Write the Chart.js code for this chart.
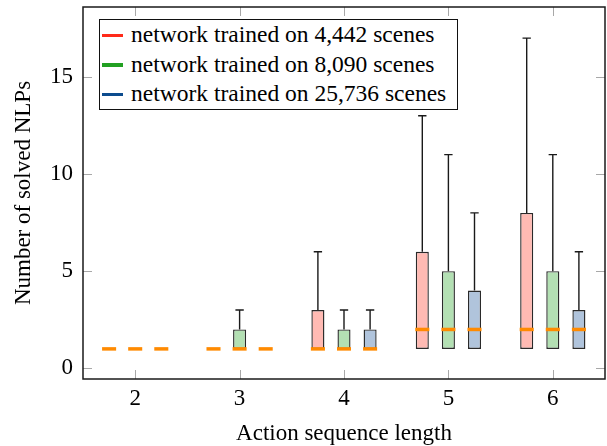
<!DOCTYPE html>
<html>
<head>
<meta charset="utf-8">
<script src="https://cdn.jsdelivr.net/npm/chart.js@4.4.1/dist/chart.umd.min.js"></script>
<style>
  body { margin: 0; background: #fff; }
  #wrap { position: relative; width: 607px; height: 446px; }
  .legend {
    position: absolute; left: 99px; top: 19px; width: 359px; height: 91px;
    border: 1.3px solid #111; background: #fff; box-sizing: border-box;
    font-family: 'Liberation Serif', 'Times New Roman', serif; font-size: 23.5px;
    padding-top: 0px;
  }
  .legend div { height: 29.5px; line-height: 29px; white-space: nowrap; }
  .legend span { display: inline-block; width: 21px; height: 3.5px; vertical-align: middle; margin: 0 8px 0 2px; position: relative; top: -1px; }
</style>
</head>
<body>
<div id="wrap">
  <canvas id="chart" width="607" height="446"></canvas>
  <div class="legend" id="legend"></div>
</div>
<script>
const lengths = ['2', '3', '4', '5', '6'];
const seriesNames = [
  'network trained on 4,442 scenes',
  'network trained on 8,090 scenes',
  'network trained on 25,736 scenes'
];

// box statistics per sequence length
const lowerQuartile = [
  [1, 1, 1, 1, 1],
  [1, 1, 1, 1, 1],
  [1, 1, 1, 1, 1]
];
const medians = [
  [1, 1, 1, 2, 2],
  [1, 1, 1, 2, 2],
  [1, 1, 1, 2, 2]
];
const upperQuartile = [
  [1, 1, 3, 6, 8],
  [1, 2, 2, 5, 5],
  [1, 1, 2, 4, 3]
];
const upperWhisker = [
  [1, 1, 6, 13, 17],
  [1, 3, 3, 11, 11],
  [1, 1, 3, 8, 6]
];
const yTicks = [0, 5, 10, 15];

const boxFill = ['#ffbab3', '#b3e0b3', '#b0c4dc'];
const legendColor = ['#ff2a1a', '#22a022', '#0c4c8e'];
const serif = "'Liberation Serif', 'Times New Roman', serif";

const datasets = seriesNames.map((name, s) => ({
  label: name,
  data: lowerQuartile[s].map((lo, i) => [lo, upperQuartile[s][i]]),
  backgroundColor: boxFill[s],
  borderColor: '#2a2a2a',
  borderWidth: 1.4,
  borderSkipped: false,
  categoryPercentage: 0.75,
  barPercentage: 0.5
}));

// whiskers, medians, inner ticks and frame
const boxExtras = {
  id: 'boxExtras',
  afterDatasetsDraw(chart) {
    const ctx = chart.ctx;
    const y = chart.scales.y;
    const x = chart.scales.x;
    const area = chart.chartArea;
    ctx.save();

    // tick marks on all four sides, pointing inwards
    ctx.strokeStyle = '#a8a8a8';
    ctx.lineWidth = 1;
    const tl = 9;
    ctx.beginPath();
    lengths.forEach((_, i) => {
      const px = Math.round(x.getPixelForTick(i)) + 0.5;
      ctx.moveTo(px, area.bottom); ctx.lineTo(px, area.bottom - tl);
      ctx.moveTo(px, area.top); ctx.lineTo(px, area.top + tl);
    });
    yTicks.forEach(v => {
      const py = Math.round(y.getPixelForValue(v)) + 0.5;
      ctx.moveTo(area.left, py); ctx.lineTo(area.left + tl, py);
      ctx.moveTo(area.right, py); ctx.lineTo(area.right - tl, py);
    });
    ctx.stroke();

    seriesNames.forEach((_, s) => {
      const meta = chart.getDatasetMeta(s);
      meta.data.forEach((bar, i) => {
        const cx = bar.x;
        const w = bar.width;
        const top = y.getPixelForValue(upperQuartile[s][i]);
        const hi = y.getPixelForValue(upperWhisker[s][i]);
        if (upperWhisker[s][i] > upperQuartile[s][i]) {
          ctx.strokeStyle = '#1a1a1a';
          ctx.lineWidth = 1.4;
          ctx.beginPath();
          ctx.moveTo(cx, top);
          ctx.lineTo(cx, hi);
          ctx.moveTo(cx - w * 0.32, hi);
          ctx.lineTo(cx + w * 0.32, hi);
          ctx.stroke();
        }
        const my = y.getPixelForValue(medians[s][i]);
        ctx.strokeStyle = '#ff8a00';
        ctx.lineWidth = 3.5;
        ctx.beginPath();
        ctx.moveTo(cx - w / 2 - 0.5, my);
        ctx.lineTo(cx + w / 2 + 0.5, my);
        ctx.stroke();
      });
    });

    ctx.strokeStyle = '#1a1a1a';
    ctx.lineWidth = 1.5;
    ctx.strokeRect(area.left, area.top, area.right - area.left, area.bottom - area.top);
    ctx.restore();
  }
};

new Chart(document.getElementById('chart'), {
  type: 'bar',
  data: { labels: lengths, datasets: datasets },
  options: {
    responsive: false,
    animation: false,
    layout: { padding: { top: 7, right: 2, left: 0, bottom: 0 } },
    plugins: {
      legend: { display: false },
      tooltip: { enabled: false }
    },
    scales: {
      x: {
        offset: true,
        grid: { display: false, drawTicks: false },
        border: { display: false },
        ticks: { color: '#000', padding: 6, font: { family: serif, size: 23 } },
        title: {
          display: true, text: 'Action sequence length', color: '#000',
          font: { family: serif, size: 23 }, padding: { top: 2, bottom: -2 }
        },
        afterFit(scale) {
          scale.height = 67;
          scale.paddingLeft = 0;
          scale.paddingRight = 0;
        }
      },
      y: {
        min: -0.55,
        max: 18.6,
        grid: { display: false, drawTicks: false },
        border: { display: false },
        ticks: { color: '#000', padding: 10, font: { family: serif, size: 23 }, stepSize: 5 },
        afterBuildTicks(scale) { scale.ticks = yTicks.map(v => ({ value: v })); },
        title: {
          display: true, text: 'Number of solved NLPs', color: '#000',
          font: { family: serif, size: 23 }, padding: { top: 10, bottom: 0 }
        },
        afterFit(scale) {
          scale.width = 83;
          scale.paddingTop = 0;
          scale.paddingBottom = 0;
        }
      }
    }
  },
  plugins: [boxExtras]
});

const legendBox = document.getElementById('legend');
seriesNames.forEach((name, s) => {
  const row = document.createElement('div');
  const mark = document.createElement('span');
  mark.style.background = legendColor[s];
  row.appendChild(mark);
  row.appendChild(document.createTextNode(name));
  legendBox.appendChild(row);
});
</script>
</body>
</html>
